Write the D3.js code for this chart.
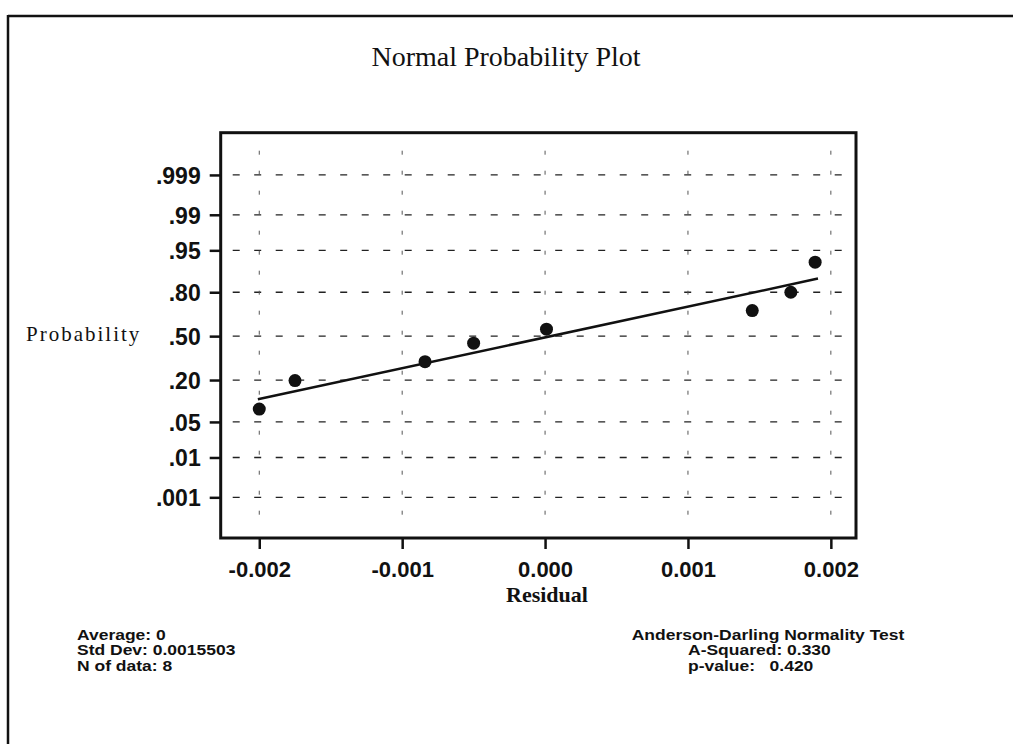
<!DOCTYPE html>
<html>
<head>
<meta charset="utf-8">
<script src="https://cdn.jsdelivr.net/npm/d3@7"></script>
<style>
  html, body { margin: 0; padding: 0; background: #fff; }
  svg { display: block; }
  text { fill: #111; }
</style>
</head>
<body>
<svg id="chart" width="1013" height="744"></svg>
<script>
// ---- data ----
const residuals     = [-0.00200, -0.00175, -0.00084, -0.00050, 0.00001, 0.00145, 0.00172, 0.00189];
const probabilities = [0.081, 0.197, 0.312, 0.446, 0.553, 0.688, 0.800, 0.922];
const fitResidual    = [-0.00201, 0.00191];
const fitProbability = [0.113, 0.865];
const yTickValues = [0.001, 0.01, 0.05, 0.20, 0.50, 0.80, 0.95, 0.99, 0.999];
const yTickLabels = [".001", ".01", ".05", ".20", ".50", ".80", ".95", ".99", ".999"];
const xTickValues = [-0.002, -0.001, 0.000, 0.001, 0.002];
const xTickLabels = ["-0.002", "-0.001", "0.000", "0.001", "0.002"];
const titleText = "Normal Probability Plot";
const xTitle = "Residual";
const yTitle = "Probability";
const statsLeft = ["Average: 0", "Std Dev: 0.0015503", "N of data: 8"];
const testTitle = "Anderson-Darling Normality Test";
const statsRight = ["A-Squared: 0.330", "p-value:   0.420"];

// inverse normal CDF (Acklam)
function probit(p) {
  const a = [-3.969683028665376e+01, 2.209460984245205e+02, -2.759285104469687e+02, 1.383577518672690e+02, -3.066479806614716e+01, 2.506628277459239e+00];
  const b = [-5.447609879822406e+01, 1.615858368580409e+02, -1.556989798598866e+02, 6.680131188771972e+01, -1.328068155288572e+01];
  const c = [-7.784894002430293e-03, -3.223964580411365e-01, -2.400758277161838e+00, -2.549732539343734e+00, 4.374664141464968e+00, 2.938163982698783e+00];
  const d = [7.784695709041462e-03, 3.224671290700398e-01, 2.445134137142996e+00, 3.754408661907416e+00];
  const pl = 0.02425, ph = 1 - pl;
  let q, r;
  if (p < pl) {
    q = Math.sqrt(-2 * Math.log(p));
    return (((((c[0]*q+c[1])*q+c[2])*q+c[3])*q+c[4])*q+c[5]) / ((((d[0]*q+d[1])*q+d[2])*q+d[3])*q+1);
  } else if (p <= ph) {
    q = p - 0.5; r = q * q;
    return (((((a[0]*r+a[1])*r+a[2])*r+a[3])*r+a[4])*r+a[5])*q / (((((b[0]*r+b[1])*r+b[2])*r+b[3])*r+b[4])*r+1);
  } else {
    q = Math.sqrt(-2 * Math.log(1 - p));
    return -(((((c[0]*q+c[1])*q+c[2])*q+c[3])*q+c[4])*q+c[5]) / ((((d[0]*q+d[1])*q+d[2])*q+d[3])*q+1);
  }
}

const svg = d3.select("#chart");
const box = { left: 220.7, top: 132.7, right: 856, bottom: 538 };

const x = d3.scaleLinear().domain([-0.00227, 0.002176]).range([box.left, box.right]);
const z = d3.scaleLinear().domain([-3.87, 3.90]).range([box.bottom, box.top]);
const y = p => z(probit(p));

const sans = "'Liberation Sans', Arial, Helvetica, sans-serif";
const serif = "'Liberation Serif', 'Times New Roman', serif";

// outer frame
svg.append("line").attr("x1", 8).attr("x2", 1013).attr("y1", 16).attr("y2", 16)
  .attr("stroke", "#111").attr("stroke-width", 2.5);
svg.append("line").attr("x1", 8).attr("x2", 8).attr("y1", 15).attr("y2", 744)
  .attr("stroke", "#111").attr("stroke-width", 2.5);

// title
svg.append("text").attr("x", 506).attr("y", 66).attr("text-anchor", "middle")
  .style("font-family", serif).style("font-size", "28px").text(titleText);

// gridlines
const grid = svg.append("g");
grid.selectAll("line.h").data(yTickValues).join("line").attr("class", "h")
  .attr("x1", box.left + 12).attr("x2", box.right - 4)
  .attr("y1", d => y(d)).attr("y2", d => y(d))
  .attr("stroke", "#222").attr("stroke-width", 1.3).attr("stroke-dasharray", "7,14.5");
grid.selectAll("line.v").data(xTickValues).join("line").attr("class", "v")
  .attr("x1", d => x(d)).attr("x2", d => x(d))
  .attr("y1", box.top + 18).attr("y2", box.bottom - 18)
  .attr("stroke", "#555").attr("stroke-width", 1).attr("stroke-dasharray", "4,16");

// axes
const yAxis = svg.append("g").attr("transform", `translate(${box.left},0)`)
  .call(d3.axisLeft(z).tickValues(yTickValues.map(probit))
    .tickFormat((d, i) => yTickLabels[i]).tickSize(11).tickPadding(9));
const xAxis = svg.append("g").attr("transform", `translate(0,${box.bottom})`)
  .call(d3.axisBottom(x).tickValues(xTickValues)
    .tickFormat((d, i) => xTickLabels[i]).tickSize(11).tickPadding(11));
[yAxis, xAxis].forEach(g => {
  g.select(".domain").remove();
  g.selectAll(".tick line").attr("stroke", "#111").attr("stroke-width", 2.5);
  g.selectAll(".tick text").style("font-family", sans).style("font-size", "22px")
    .style("font-weight", "bold").attr("fill", "#111");
});
yAxis.selectAll(".tick text").style("font-size", "23px").attr("dy", "0.36em");
xAxis.selectAll(".tick text").attr("dy", "0.75em");

// plot frame
svg.append("rect").attr("x", box.left).attr("y", box.top)
  .attr("width", box.right - box.left).attr("height", box.bottom - box.top)
  .attr("fill", "none").attr("stroke", "#111").attr("stroke-width", 3);

// fit line
svg.append("path").datum(fitResidual.map((r, i) => [r, fitProbability[i]]))
  .attr("d", d3.line().x(d => x(d[0])).y(d => y(d[1])))
  .attr("stroke", "#111").attr("stroke-width", 2.5).attr("fill", "none");

// points
svg.append("g").selectAll("circle").data(residuals.map((r, i) => [r, probabilities[i]]))
  .join("circle").attr("cx", d => x(d[0])).attr("cy", d => y(d[1])).attr("r", 6.5)
  .attr("fill", "#111");

// axis titles
svg.append("text").attr("x", 547).attr("y", 601.5).attr("text-anchor", "middle")
  .style("font-family", serif).style("font-size", "22px").style("font-weight", "bold").text(xTitle);
svg.append("text").attr("x", 26).attr("y", 341).attr("text-anchor", "start")
  .style("font-family", serif).style("font-size", "21px").style("letter-spacing", "2px").text(yTitle);

// stats blocks (slightly wide face like the original)
const lineStep = 16;
const sx = 1.25;
const fs = "14px";
const leftBlock = svg.append("g").attr("transform", `translate(77,639.5) scale(${sx},1)`)
  .append("text")
  .style("font-family", sans).style("font-size", fs).style("font-weight", "bold");
leftBlock.selectAll("tspan").data(statsLeft).join("tspan")
  .attr("x", 0).attr("y", (d, i) => i * lineStep).text(d => d);

const rightBlock = svg.append("g").attr("transform", `translate(768,639.5) scale(${sx},1)`)
  .append("text")
  .attr("xml:space", "preserve").style("white-space", "pre")
  .style("font-family", sans).style("font-size", fs).style("font-weight", "bold");
rightBlock.append("tspan").attr("x", 0).attr("y", 0).attr("text-anchor", "middle").text(testTitle);
rightBlock.selectAll("tspan.s").data(statsRight).join("tspan").attr("class", "s")
  .attr("x", (688 - 768) / sx).attr("y", (d, i) => (i + 1) * lineStep)
  .attr("text-anchor", "start").text(d => d);
</script>
</body>
</html>
